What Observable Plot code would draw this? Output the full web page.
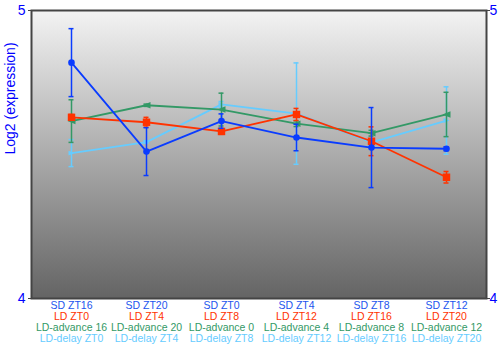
<!DOCTYPE html>
<html>
<head>
<meta charset="utf-8">
<script src="https://cdn.jsdelivr.net/npm/d3@7"></script>
<script src="https://cdn.jsdelivr.net/npm/@observablehq/plot@0.6"></script>
<style>
  html, body { margin: 0; padding: 0; background: #fff; }
  #chart { width: 500px; height: 350px; }
</style>
</head>
<body>
<div id="chart"></div>
<script>
// ---- data ----
const sdLabels    = ["SD ZT16", "SD ZT20", "SD ZT0", "SD ZT4", "SD ZT8", "SD ZT12"];
const ldLabels    = ["LD ZT0", "LD ZT4", "LD ZT8", "LD ZT12", "LD ZT16", "LD ZT20"];
const advLabels   = ["LD-advance 16", "LD-advance 20", "LD-advance 0", "LD-advance 4", "LD-advance 8", "LD-advance 12"];
const delayLabels = ["LD-delay ZT0", "LD-delay ZT4", "LD-delay ZT8", "LD-delay ZT12", "LD-delay ZT16", "LD-delay ZT20"];

const sdMean    = [4.819, 4.510, 4.616, 4.559, 4.524, 4.520];
const sdErr     = [0.118, 0.083, 0.025, 0.046, 0.139, 0.007];
const ldMean    = [4.629, 4.612, 4.580, 4.639, 4.546, 4.421];
const ldErr     = [0.010, 0.017, 0.010, 0.021, 0.050, 0.020];
const advMean   = [4.616, 4.671, 4.656, 4.607, 4.574, 4.639];
const advErr    = [0.074, 0.004, 0.057, 0.010, 0.010, 0.077];
const delayMean = [4.505, 4.543, 4.674, 4.642, 4.542, 4.618];
const delayErr  = [0.047, 0.004, 0.010, 0.176, 0.010, 0.117];

const yTicks = [4, 5];
const yLabel = "Log2 (expression)";

const colors = {sd: "#0a3cff", ld: "#ff3300", adv: "#339966", delay: "#66ccff"};

// ---- build ----
function series(key, mean, err) {
  return mean.map((m, i) => ({i, key, mean: m, lo: m - err[i], hi: m + err[i]}));
}
const sd = series("sd", sdMean, sdErr);
const ld = series("ld", ldMean, ldErr);
const adv = series("adv", advMean, advErr);
const delay = series("delay", delayMean, delayErr);

const triLeft = {draw(ctx, size) { const r = Math.sqrt(size / Math.PI); ctx.moveTo(-r, 0); ctx.lineTo(r, -r * 0.8); ctx.lineTo(r, r * 0.8); ctx.closePath(); }};
const triRight = {draw(ctx, size) { const r = Math.sqrt(size / Math.PI); ctx.moveTo(r, 0); ctx.lineTo(-r, -r * 0.8); ctx.lineTo(-r, r * 0.8); ctx.closePath(); }};

function seriesMarks(data, color, symbol, r) {
  return [
    Plot.ruleX(data, {x: "i", y1: "lo", y2: "hi", stroke: color, strokeWidth: 1.5}),
    Plot.ruleY(data, {y: "hi", x1: "i", x2: "i", insetLeft: -2.5, insetRight: -2.5, stroke: color, strokeWidth: 1.5}),
    Plot.ruleY(data, {y: "lo", x1: "i", x2: "i", insetLeft: -2.5, insetRight: -2.5, stroke: color, strokeWidth: 1.5}),
    Plot.line(data, {x: "i", y: "mean", stroke: color, strokeWidth: 1.8}),
    Plot.dot(data, {x: "i", y: "mean", symbol, r, fill: color, stroke: "none"})
  ];
}

const idx = d3.range(6);
const labelFont = 10.5;

const svg = Plot.plot({
  width: 500,
  height: 350,
  marginTop: 10,
  marginBottom: 52,
  marginLeft: 31,
  marginRight: 14,
  style: {fontFamily: "'Liberation Sans', Arial, sans-serif", background: "transparent"},
  x: {type: "point", domain: idx, padding: 0.5, axis: null},
  y: {domain: [4, 5], axis: null},
  marks: [
    Plot.frame({fill: "url(#bgGrad)"}),
    ...seriesMarks(delay, colors.delay, triRight, 3),
    ...seriesMarks(adv, colors.adv, triLeft, 4),
    ...seriesMarks(ld, colors.ld, "square", 4.2),
    ...seriesMarks(sd, colors.sd, "circle", 3.3),
    Plot.frame({stroke: "#444", strokeWidth: 2}),
    Plot.axisY({anchor: "left", ticks: yTicks, tickFormat: d3.format("d"), tickSize: 3, tickPadding: 3, fontSize: 14, fill: "#0000ff", stroke: "#444", label: null}),
    Plot.axisY({anchor: "right", ticks: yTicks, tickFormat: d3.format("d"), tickSize: 3, tickPadding: 0, fontSize: 14, fill: "#0000ff", stroke: "#444", label: null}),
    Plot.text([yLabel], {frameAnchor: "left", text: d => d, rotate: -90, dx: -21, fontSize: 14, fill: "#0000ff"}),
    Plot.text(idx, {x: d => d, y: () => 4, text: d => sdLabels[d], dy: 7, fontSize: labelFont, fill: "#2255ee"}),
    Plot.text(idx, {x: d => d, y: () => 4, text: d => ldLabels[d], dy: 18, fontSize: labelFont, fill: "#ff3300"}),
    Plot.text(idx, {x: d => d, y: () => 4, text: d => advLabels[d], dy: 29, fontSize: labelFont, fill: "#339966"}),
    Plot.text(idx, {x: d => d, y: () => 4, text: d => delayLabels[d], dy: 40, fontSize: labelFont, fill: "#66ccff"})
  ]
});

const ns = "http://www.w3.org/2000/svg";
const defs = document.createElementNS(ns, "defs");
const grad = document.createElementNS(ns, "linearGradient");
grad.setAttribute("id", "bgGrad");
grad.setAttribute("x1", "0"); grad.setAttribute("y1", "0");
grad.setAttribute("x2", "0"); grad.setAttribute("y2", "1");
[["0%", "#f3f3f3"], ["100%", "#646464"]].forEach(([o, c]) => {
  const s = document.createElementNS(ns, "stop");
  s.setAttribute("offset", o); s.setAttribute("stop-color", c);
  grad.appendChild(s);
});
defs.appendChild(grad);
svg.insertBefore(defs, svg.firstChild);

document.getElementById("chart").appendChild(svg);
</script>
</body>
</html>
